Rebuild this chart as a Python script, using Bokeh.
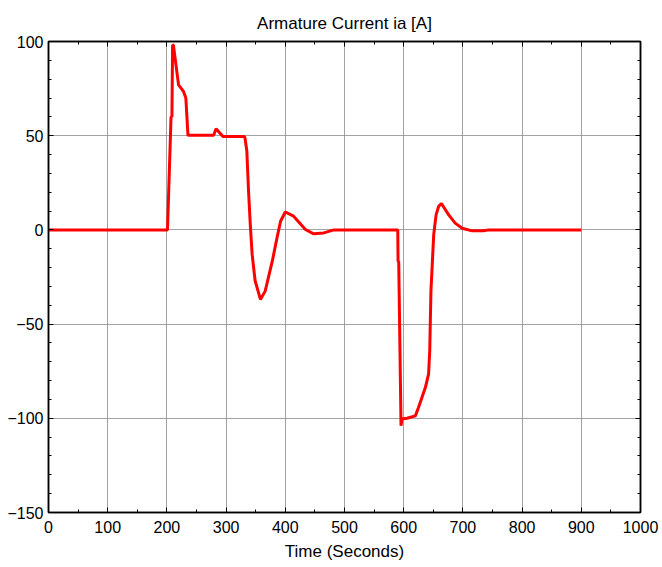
from bokeh.plotting import figure
from bokeh.models import Range1d, LinearAxis, FixedTicker, ColumnDataSource, Title, CustomJSTickFormatter
from bokeh.embed import file_html
from bokeh.resources import INLINE

# ---- data ----
time_s = [0, 201, 207, 208.5, 209.6, 211, 219.7, 228, 232, 235.6, 279, 283, 294.7,
          331, 332, 335, 338, 341, 344, 349, 358, 366, 378, 386, 392, 400, 414, 434,
          448, 465, 482, 590, 590.5, 591.6, 595.5, 597, 605.7, 619.7, 625, 636.6,
          642, 644, 646, 650.7, 654.7, 659, 663.7, 676, 687, 698.7, 715.5, 735,
          743.6, 900]
current_a = [0, 0, 60, 60, 98.2, 98, 77, 73.5, 70, 50.2, 50.2, 53.7, 49.6,
             49.6, 48.5, 42, 20, 2, -13, -27, -36.9, -32.5, -16.6, -4.2, 4.6, 9.5, 7.3, 0.2,
             -2.1, -1.6, 0, 0, -16.8, -16.8, -104, -100.4, -100, -98.7, -94.3, -83.7,
             -76.6, -64, -32.5, -2.5, 8, 12.5, 14, 8, 3.6, 0.9, -0.5, -0.5,
             0, 0]

x_ticks = list(range(0, 1001, 100))
x_minor = list(range(0, 1001, 50))
y_ticks = [-150, -100, -50, 0, 50, 100]
y_minor = list(range(-150, 101, 10))

title_text = "Armature Current ia [A]"
x_label = "Time (Seconds)"

FONT = "Liberation Sans"

p = figure(width=660, height=563, output_backend="svg", toolbar_location=None,
           x_range=Range1d(0, 1000), y_range=Range1d(-150, 100),
           min_border_left=48, min_border_right=20, min_border_top=41,
           min_border_bottom=46, background_fill_color="white",
           border_fill_color="white")

p.title = Title(text=title_text, align="center", text_font=FONT,
                text_font_size="17px", text_font_style="normal",
                text_color="#000000", standoff=18)

src = ColumnDataSource(dict(t=time_s, ia=current_a))
p.line("t", "ia", source=src, line_color="#ff0000", line_width=3)

xt = FixedTicker(ticks=x_ticks, minor_ticks=x_minor)
yt = FixedTicker(ticks=y_ticks, minor_ticks=y_minor)

def style_axis(ax, labels=True):
    ax.axis_line_color = "black"
    ax.axis_line_width = 1.5
    ax.major_tick_line_color = "black"
    ax.minor_tick_line_color = "black"
    ax.major_tick_in = 5
    ax.major_tick_out = 0
    ax.minor_tick_in = 3
    ax.minor_tick_out = 0
    ax.major_label_text_font = FONT
    ax.major_label_text_color = "black"
    ax.major_label_text_font_size = "16px"
    if not labels:
        ax.formatter = CustomJSTickFormatter(code="return ''")
        ax.major_label_standoff = 0

xa = p.xaxis[0]
xa.ticker = xt
style_axis(xa)
xa.major_label_standoff = 8
xa.axis_label = x_label
xa.axis_label_text_font = FONT
xa.axis_label_text_font_size = "17px"
xa.axis_label_text_font_style = "normal"
xa.axis_label_text_color = "black"
xa.axis_label_standoff = 6

ya = p.yaxis[0]
ya.ticker = yt
style_axis(ya)
ya.major_label_standoff = 5

top = LinearAxis(ticker=xt)
style_axis(top, labels=False)
p.add_layout(top, "above")
right = LinearAxis(ticker=yt)
style_axis(right, labels=False)
p.add_layout(right, "right")

p.xgrid.ticker = xt
p.ygrid.ticker = yt
for g in (p.xgrid[0], p.ygrid[0]):
    g.grid_line_color = "#8c8c8c"
    g.grid_line_width = 1
    g.grid_line_alpha = 0.8

p.outline_line_color = "black"
p.outline_line_width = 1.5

open("out.html", "w").write(file_html(p, INLINE))
